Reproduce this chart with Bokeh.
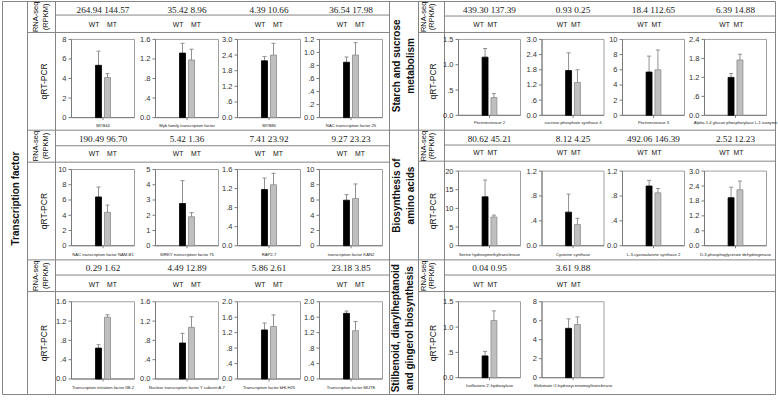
import math
from bokeh.plotting import figure
from bokeh.models import Range1d, ColumnDataSource
from bokeh.embed import file_html
from bokeh.resources import INLINE
from bokeh.core.properties import value

# ---------------- data ----------------
groups = ["WT", "MT"]

tf_genes = ["MYB44", "Myb family transcription factor", "MYB86", "NAC transcription factor 25",
            "NAC transcription factor NAM-B1", "WRKY transcription factor 75", "RAP2-7", "transcription factor KAN2",
            "Transcription initiation factor IIB-2", "Nuclear transcription factor Y subunit A-7",
            "Transcription factor bHLH25", "Transcription factor MUTE"]
tf_rpkm_wt = ["264.94", "35.42", "4.39", "36.54", "190.49", "5.42", "7.41", "9.27", "0.29", "4.49", "5.86", "23.18"]
tf_rpkm_mt = ["144.57", "8.96", "10.66", "17.98", "96.70", "1.36", "23.92", "23.23", "1.62", "12.89", "2.61", "3.85"]
tf_qpcr_wt = [5.35, 1.32, 2.18, 0.85, 6.4, 2.77, 1.18, 5.97, 0.64, 0.745, 1.27, 1.70]
tf_qpcr_mt = [4.1, 1.18, 2.40, 0.96, 4.38, 1.9, 1.28, 6.2, 1.28, 1.07, 1.36, 1.25]
tf_err_wt = [1.45, 0.2, 0.16, 0.08, 1.3, 1.5, 0.24, 0.73, 0.07, 0.2, 0.18, 0.06]
tf_err_mt = [0.4, 0.22, 0.45, 0.19, 0.95, 0.27, 0.24, 1.9, 0.05, 0.22, 0.3, 0.24]
tf_ticks = [[0, 2, 4, 6, 8], [0, 0.4, 0.8, 1.2, 1.6], [0, 0.6, 1.2, 1.8, 2.4, 3.0], [0, 0.2, 0.4, 0.6, 0.8, 1.0, 1.2],
            [0, 2, 4, 6, 8, 10], [0, 1, 2, 3, 4, 5], [0, 0.4, 0.8, 1.2, 1.6], [0, 2, 4, 6, 8, 10],
            [0, 0.4, 0.8, 1.2, 1.6], [0, 0.4, 0.8, 1.2, 1.6], [0, 0.4, 0.8, 1.2, 1.6, 2.0], [0, 0.4, 0.8, 1.2, 1.6, 2.0]]

ot_genes = ["Pectinesterase 2", "sucrose-phosphate synthase 4", "Pectinesterase 3",
            "Alpha-1,4 glucan phosphorylase L-1 isozyme",
            "Serine hydroxymethyltransferase", "Cysteine synthase", "L-3-cyanoalanine synthase 2",
            "D-3-phosphoglycerate dehydrogenase",
            "Isoflavone 2'-hydroxylase", "Shikimate O-hydroxycinnamoyltransferase"]
ot_rpkm_wt = ["439.30", "0.93", "18.4", "6.39", "80.62", "8.12", "492.06", "2.52", "0.04", "3.61"]
ot_rpkm_mt = ["137.39", "0.25", "112.65", "14.88", "45.21", "4.25", "146.39", "12.23", "0.95", "9.88"]
ot_qpcr_wt = [1.15, 1.77, 5.7, 1.2, 13.1, 0.54, 0.96, 1.93, 0.43, 5.2]
ot_qpcr_mt = [0.35, 1.30, 6.0, 1.75, 7.7, 0.34, 0.85, 2.25, 1.13, 5.6]
ot_err_wt = [0.17, 0.7, 2.1, 0.12, 4.5, 0.29, 0.09, 0.42, 0.09, 1.0]
ot_err_mt = [0.08, 0.5, 2.6, 0.18, 0.5, 0.1, 0.07, 0.35, 0.19, 0.8]
ot_ticks = [[0, 0.5, 1.0, 1.5], [0, 0.6, 1.2, 1.8, 2.4, 3.0], [0, 2, 4, 6, 8, 10], [0, 0.6, 1.2, 1.8, 2.4],
            [0, 5, 10, 15, 20], [0, 0.4, 0.8, 1.2], [0, 0.4, 0.8, 1.2], [0, 0.6, 1.2, 1.8, 2.4, 3.0],
            [0, 0.5, 1.0, 1.5], [0, 2, 4, 6, 8]]

left_category = ["Transcription factor"]
right_categories = [["Starch and sucrose", "metabolism"], ["Biosynthesis of", "amino acids"],
                    ["Stilbenoid, diarylheptanoid", "and gingerol biosynthesis"]]

# ---------------- layout (reference pixel grid) ----------------
W, H = 778, 397
RW, RH = 778, 401
SANS = value("Liberation Sans")
SERIF = value("Liberation Serif")
LINE = "#858585"
AXIS = "#7a7a7a"

L_COLS = [71, 155, 237, 319]
L_W = 63
R_COLS = [458, 541.5, 622, 704]
R_W = 62
L_ROWS = [(39.3, 118.3), (170.7, 247.7), (304.3, 382.3)]
R_ROWS = [(39.3, 116.0), (172.3, 247.7), (304.3, 381.0)]
NUM_Y = [9.5, 139.5, 270]
L_WTMT_Y = [24.5, 155, 286.5]
R_WTMT_Y = [24, 154, 286.5]
L_LAB_Y = [126.7, 256.7, 391]
R_LAB_Y = [123.5, 256.7, 388.5]

# category slots: each group sits in a unit-wide slot; the chart's x span is padded around them
GROUP_X = [i + 0.5 for i in range(len(groups))]
X_SRC = (-2.5, len(groups) + 2.5)

bg = figure(width=W, height=H, x_range=Range1d(0, RW), y_range=Range1d(RH, 0),
            x_axis_location=None, y_axis_location=None, toolbar_location=None,
            output_backend="svg", min_border=0, outline_line_color=None)
bg.grid.visible = False


def txt(x, y, s, size, font=SANS, style="normal", angle=0.0, color="#111111"):
    bg.text(x=[x], y=[y], text=[s], text_font=font, text_font_size=f"{size}px", text_font_style=style,
            angle=angle, text_align="center", text_baseline="middle", text_color=color)


# table rules
segs = [
    (2, 1, 775, 1), (2, 398, 775, 398), (2, 1, 2, 398), (775, 1, 775, 398),
    (27, 1, 27, 398), (55, 1, 55, 398), (389, 1, 389, 398), (418, 1, 418, 398), (444, 1, 444, 398),
    (27, 131, 389, 131), (27, 262, 389, 262),
    (55, 14.7, 389, 14.7), (27, 32.3, 389, 32.3),
    (55, 146.7, 389, 146.7), (27, 163.3, 389, 163.3),
    (55, 277.3, 389, 277.3), (27, 294, 389, 294),
    (389, 131, 775, 131), (389, 262, 775, 262),
    (444, 15.7, 775, 15.7), (418, 32.3, 775, 32.3),
    (444, 146, 775, 146), (418, 162.3, 775, 162.3),
    (444, 277.3, 775, 277.3), (418, 294, 775, 294),
]
bg.segment(x0=[s[0] for s in segs], y0=[s[1] for s in segs], x1=[s[2] for s in segs], y1=[s[3] for s in segs],
           line_color=LINE, line_width=1)

ROT = math.pi / 2

# category labels
txt(15, 200, left_category[0], 10, style="bold", angle=ROT)
for (l1, l2), yc, (xa, xb) in zip(right_categories, [66, 197, 331], [(396, 409.5), (396, 409.5), (394.5, 409)]):
    txt(xa, yc, l1, 10, style="bold", angle=ROT)
    txt(xb, yc, l2, 10, style="bold", angle=ROT)

# row labels
for r in range(3):
    mid = [16.5, 147, 278][r]
    qy = [81.7, 212.7, 346][r]
    for (xa, xb, xq) in [(34.5, 44.5, 43), (422.5, 431, 432)]:
        txt(xa, mid, "RNA-seq", 7.5, angle=ROT)
        txt(xb, mid, "(RPKM)", 7.5, angle=ROT)
        txt(xq, qy, "qRT-PCR", 8.5, angle=ROT)


def fmt(t, dec):
    s = f"{t:.{dec}f}"
    if dec > 0 and 0 < abs(t) < 1:
        s = s.replace("0.", ".", 1)
    return s


def chart(x0, x1, y0, y1, ticks, wt, mt, ewt, emt):
    ytop = ticks[-1]
    dec = 0 if all(float(t).is_integer() for t in ticks) else 1
    ax = bg.subplot(x_source=Range1d(0, 1), y_source=Range1d(0, ytop),
                    x_target=Range1d(x0, x1), y_target=Range1d(y1, y0))
    ax.quad(left=[0], right=[1], bottom=[0], top=[ytop], fill_color="white",
            line_color="#a0a0a0", line_width=1)
    ax.segment(x0=[0, 0], y0=[0, 0], x1=[0, 1], y1=[ytop, 0], line_color=AXIS, line_width=1)
    ax.ray(x=[0] * len(ticks), y=ticks, length=3, angle=math.pi, length_units="screen",
           line_color=AXIS, line_width=1)
    ax.ray(x=[0.5], y=[0], length=2.5, angle=-math.pi / 2, length_units="screen", line_color=AXIS, line_width=1)
    ax.text(x=[0] * len(ticks), y=ticks, text=[fmt(t, dec) for t in ticks], x_offset=-5,
            text_align="right", text_baseline="middle", text_font=SANS, text_font_size="7.5px",
            text_color="#333333")
    bars = bg.subplot(x_source=Range1d(*X_SRC), y_source=Range1d(0, ytop),
                      x_target=Range1d(x0, x1), y_target=Range1d(y1, y0))
    src = ColumnDataSource(dict(x=GROUP_X, top=[wt, mt], up=[wt + ewt, mt + emt],
                                fill=["#000000", "#bfbfbf"], line=["#000000", "#8a8a8a"]))
    bars.segment(x0="x", y0="top", x1="x", y1="up", source=src, line_color="#909090", line_width=1)
    bars.scatter(x="x", y="up", marker="dash", size=4, line_color="#909090", line_width=1, source=src)
    bars.vbar(x="x", top="top", width=0.67, bottom=0, fill_color="fill", line_color="line",
              line_width=0.8, source=src)


def block(cols, width, rows, wtmt_y, lab_y, genes, rw, rm, qw, qm, ew, em, tks, wt_off, mt_off):
    k = 0
    for r, (y0, y1) in enumerate(rows):
        for c, x0 in enumerate(cols):
            if k >= len(genes):
                break
            cx = x0 + width / 2
            chart(x0, x0 + width, y0, y1, tks[k], qw[k], qm[k], ew[k], em[k])
            txt(cx, NUM_Y[r], f"{rw[k]} {rm[k]}", 9.2, font=SERIF, color="#1a1a1a")
            txt(cx + wt_off, wtmt_y[r], groups[0], 6.8)
            txt(cx + mt_off, wtmt_y[r], groups[1], 6.8)
            txt(cx, lab_y[r], genes[k], 4.2, color="#222222")
            k += 1


block(L_COLS, L_W, L_ROWS, L_WTMT_Y, L_LAB_Y, tf_genes, tf_rpkm_wt, tf_rpkm_mt, tf_qpcr_wt, tf_qpcr_mt,
      tf_err_wt, tf_err_mt, tf_ticks, -9, 9)
block(R_COLS, R_W, R_ROWS, R_WTMT_Y, R_LAB_Y, ot_genes, ot_rpkm_wt, ot_rpkm_mt, ot_qpcr_wt, ot_qpcr_mt,
      ot_err_wt, ot_err_mt, ot_ticks, -11, 3)

open("out.html", "w").write(file_html(bg, INLINE))
